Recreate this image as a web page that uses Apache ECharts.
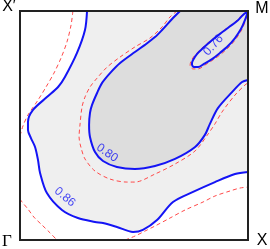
<!DOCTYPE html>
<html><head><meta charset="utf-8">
<script src="https://cdn.jsdelivr.net/npm/echarts@6/dist/echarts.min.js"></script>
<style>html,body{margin:0;padding:0;background:#fff}#c{width:270px;height:249px}</style>
</head><body><div id="c"></div>
<script>
// Contour lines in reduced k-space (x: Γ→X, y: Γ→X')
const blue086 = [[0.294,1.0],[0.285,0.917],[0.250,0.817],[0.197,0.712],[0.167,0.668],[0.118,0.624],[0.057,0.568],[0.035,0.515],[0.035,0.480],[0.048,0.445],[0.066,0.406],[0.079,0.349],[0.088,0.293],[0.118,0.205],[0.184,0.131],[0.254,0.096],[0.329,0.079],[0.364,0.074],[0.425,0.057],[0.496,0.035],[0.539,0.044],[0.601,0.087],[0.671,0.166],[0.759,0.210],[0.855,0.253],[0.943,0.288],[1.0,0.297]];
const blue080 = [[0.702,1.0],[0.667,0.965],[0.623,0.917],[0.592,0.886],[0.548,0.852],[0.504,0.821],[0.439,0.773],[0.395,0.729],[0.360,0.686],[0.338,0.642],[0.316,0.590],[0.307,0.555],[0.303,0.502],[0.307,0.450],[0.329,0.384],[0.364,0.345],[0.425,0.319],[0.504,0.310],[0.592,0.323],[0.680,0.354],[0.768,0.406],[0.811,0.459],[0.833,0.507],[0.868,0.576],[0.930,0.646],[0.974,0.690],[1.0,0.699]];
const blue076 = [[1.0,1.0],[0.978,0.983],[0.952,0.956],[0.917,0.930],[0.877,0.900],[0.838,0.869],[0.803,0.838],[0.776,0.812],[0.759,0.786],[0.754,0.769],[0.763,0.755],[0.781,0.755],[0.807,0.769],[0.842,0.790],[0.877,0.817],[0.912,0.847],[0.943,0.882],[0.969,0.921],[0.987,0.961],[1.0,1.0]];
const red086a = [[0.232,1.0],[0.224,0.939],[0.206,0.865],[0.180,0.795],[0.149,0.729],[0.114,0.668],[0.079,0.611],[0.035,0.546],[0.013,0.498],[0.0,0.454]];
const red086b = [[0.0,0.179],[0.009,0.166],[0.035,0.135],[0.061,0.100],[0.096,0.066],[0.132,0.031],[0.162,0.0]];
const red086c = [[0.461,0.0],[0.504,0.017],[0.548,0.039],[0.592,0.061],[0.658,0.096],[0.724,0.131],[0.803,0.166],[0.855,0.192],[0.921,0.214],[0.965,0.227],[1.0,0.231]];
const red080 = [[0.689,1.0],[0.658,0.974],[0.623,0.930],[0.570,0.882],[0.504,0.843],[0.439,0.799],[0.382,0.755],[0.338,0.707],[0.307,0.668],[0.285,0.624],[0.272,0.581],[0.263,0.502],[0.259,0.450],[0.268,0.402],[0.285,0.354],[0.329,0.301],[0.395,0.266],[0.469,0.253],[0.504,0.253],[0.592,0.288],[0.680,0.332],[0.768,0.389],[0.825,0.463],[0.855,0.507],[0.886,0.559],[0.943,0.633],[0.987,0.677],[1.0,0.686]];
const red076 = [[1.0,1.0],[0.969,0.978],[0.943,0.952],[0.908,0.926],[0.868,0.895],[0.829,0.865],[0.794,0.834],[0.768,0.808],[0.750,0.782],[0.746,0.760],[0.759,0.747],[0.781,0.747],[0.811,0.764],[0.846,0.786],[0.882,0.812],[0.917,0.843],[0.947,0.878],[0.974,0.921],[0.991,0.965],[1.0,1.0]];
const levelLabels = ['0.86','0.80','0.76'];
const levelLabelAt = [[0.197,0.188],[0.382,0.380],[0.848,0.850]];
const cornerNames = ['Γ','X','X′','M'];
const cornerPoints = [[0,0],[1,0],[0,1],[1,1]];

const BLUE = '#1414f5', RED = '#ff4a4a';
function poly(points, fill, z){
  return {type:'custom', coordinateSystem:'cartesian2d', data:[0], z:z, silent:true, clip:true,
    renderItem:(p, api)=>({type:'polygon', shape:{points:points.map(q=>api.coord(q))}, style:{fill:fill}})};
}
function line(points, color, width, dashed, z){
  return {type:'line', data:points, showSymbol:false, smooth:0.3, silent:true, z:z,
    lineStyle:{color:color, width:width, type:dashed?[4,3]:'solid'}};
}
const outside086 = blue086.concat([[1,0],[0,0],[0,1]]);
const inside080 = blue080.concat([[1,1]]);
const labelAngles = [-40,-35,48];
const cornerOffsets = [[-13,2],[14,1],[-11,-4],[14,-2]];
const cornerFontSizes = [17,16,16,16];
const chart = echarts.init(document.getElementById('c'), null, {renderer:'canvas'});
chart.setOption({
  animation:false,
  grid:{left:20, top:11, width:228, height:229, show:true, backgroundColor:'#efefef', borderWidth:0},
  xAxis:{type:'value', min:0, max:1, show:false},
  yAxis:{type:'value', min:0, max:1, show:false},
  series:[
    poly(outside086, '#ffffff', 1),
    poly(inside080, '#dddddd', 1),
    poly(blue076, '#e6e6e6', 1),
    line(red086a, RED, 1, true, 3),
    line(red086b, RED, 1, true, 3),
    line(red086c, RED, 1, true, 3),
    line(red080, RED, 1, true, 3),
    line(red076, RED, 1, true, 3),
    line(blue086, BLUE, 2, false, 4),
    line(blue080, BLUE, 2, false, 4),
    line(blue076, BLUE, 2, false, 4),
    {type:'custom', coordinateSystem:'cartesian2d', data:[0], z:6, silent:true,
      renderItem:(p, api)=>{ const a=api.coord([0,1]), b=api.coord([1,0]);
        return {type:'rect', shape:{x:a[0], y:a[1], width:b[0]-a[0], height:b[1]-a[1]}, style:{fill:null, stroke:'#222', lineWidth:2}}; }},
    {type:'scatter', symbolSize:0, z:7, silent:true,
      data:levelLabels.map((t,i)=>({value:levelLabelAt[i], name:t,
        label:{show:true, position:'inside', formatter:'{b}', color:BLUE, fontSize:12, rotate:labelAngles[i], fontFamily:'Liberation Sans, Arial, sans-serif'}}))}
  ]
});
const cornerTexts = cornerNames.map((t,i)=>{
  const p = chart.convertToPixel({gridIndex:0}, cornerPoints[i]);
  return {type:'text', x:p[0]+cornerOffsets[i][0], y:p[1]+cornerOffsets[i][1], z:10,
    style:{text:t, fill:'#000', fontSize:cornerFontSizes[i], align:'center', verticalAlign:'middle',
      fontFamily: i===0?'Liberation Serif, serif':'Liberation Sans, Arial, sans-serif'}};
});
chart.setOption({graphic:cornerTexts});
</script></body></html>
